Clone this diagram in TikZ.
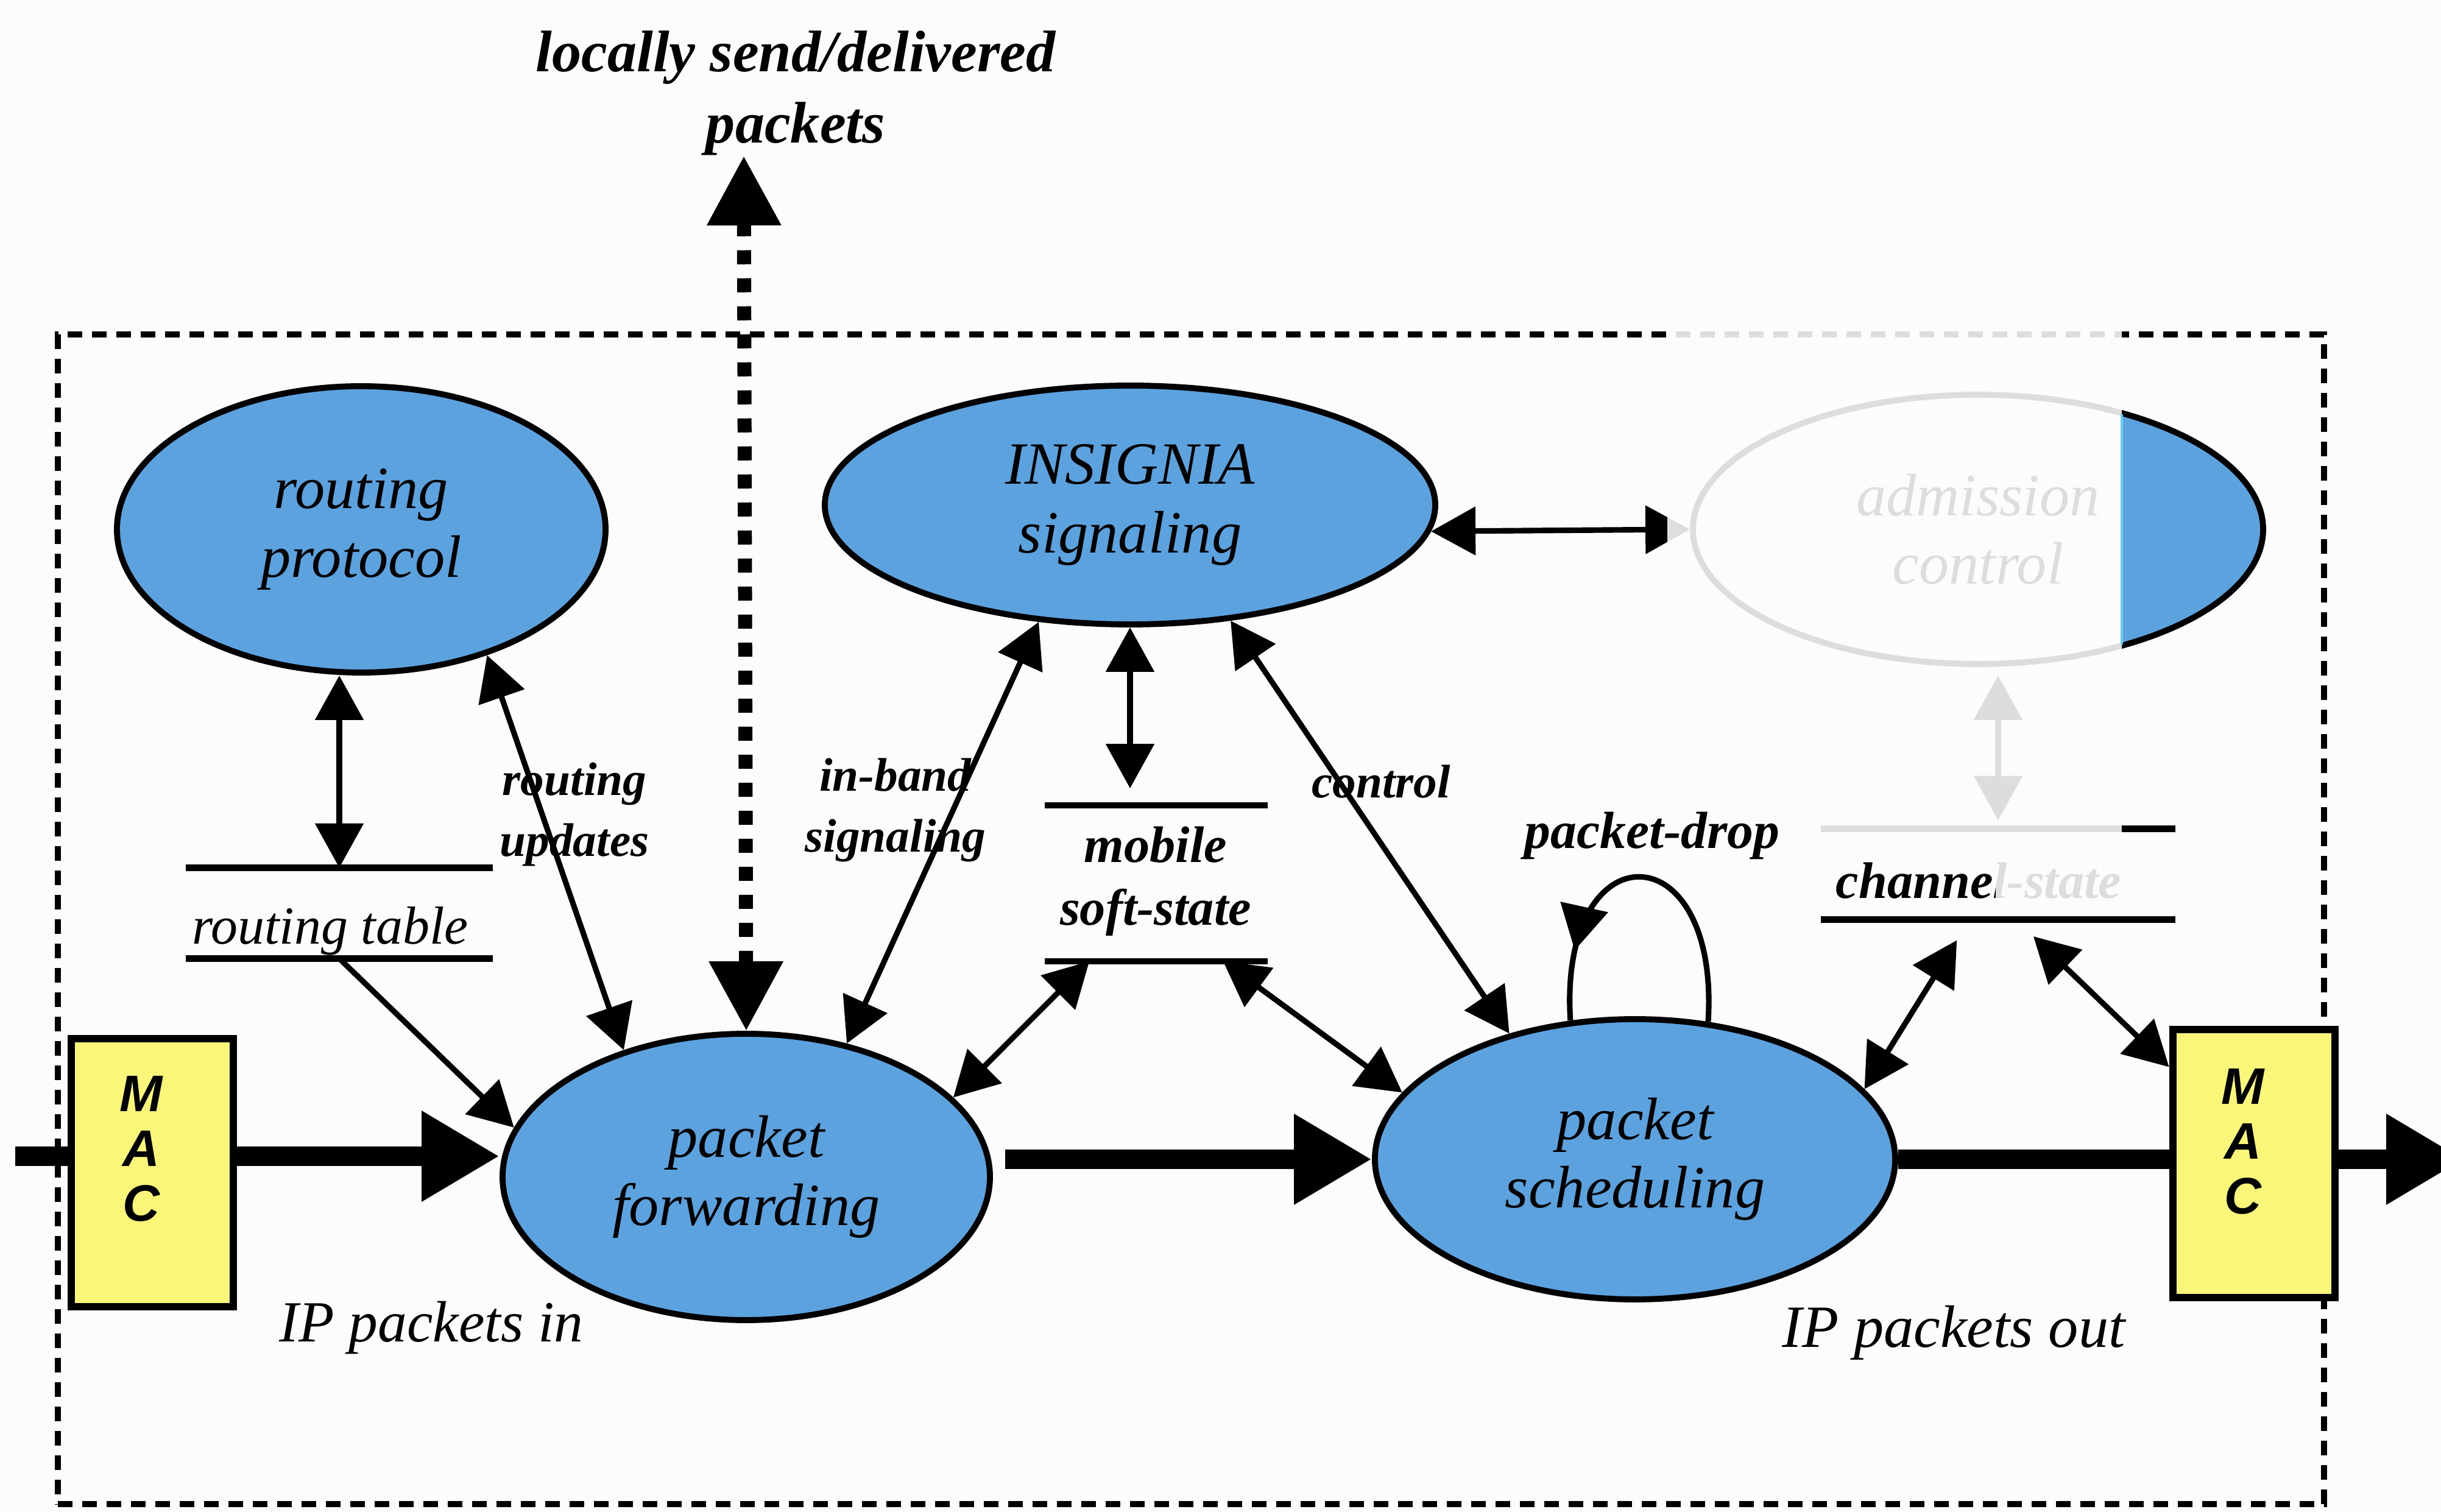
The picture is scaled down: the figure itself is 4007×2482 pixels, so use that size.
\documentclass[tikz,border=0pt]{standalone}
\usepackage{fontspec}
\setmainfont{Liberation Serif}
\newfontfamily\macfont{Liberation Sans}
\usetikzlibrary{arrows.meta,calc,decorations.markings,shapes.geometric}

\definecolor{procblue}{RGB}{92,162,222}
\definecolor{macyellow}{RGB}{250,246,122}
\definecolor{paper}{RGB}{252,252,254}

\tikzset{
  proc/.style={ellipse, draw=black, line width=1.4pt, fill=procblue, inner sep=0pt, align=center,
    font=\fontsize{14}{16}\selectfont\itshape},
  macbox/.style={rectangle, draw=black, line width=1.8pt, fill=macyellow,
    minimum width=13.3mm, minimum height=22mm, inner sep=0pt},
  mactext/.style={align=center, inner sep=0pt,
    font=\macfont\fontsize{12}{12.8}\selectfont\bfseries\itshape},
  storebox/.style={rectangle, inner sep=0pt},
  storeline/.style={line width=1.5pt},
  storetext/.style={inner sep=0pt, align=center,
    font=\fontsize{12}{14.7}\selectfont\bfseries\itshape},
  edgelabel/.style={inner sep=0pt, align=center,
    font=\fontsize{11}{14.2}\selectfont\bfseries\itshape},
  plainlabel/.style={inner sep=0pt, align=center,
    font=\fontsize{13.6}{16}\selectfont\itshape},
  link/.style={line width=1.3pt, >={Triangle[width=3.9mm,length=3.65mm]}, <->},
  oneway/.style={line width=1.3pt, >={Triangle[width=3.9mm,length=3.65mm]}, ->},
  bigline/.style={line width=1.6mm},
  bigarrow/.style={line width=1.6mm, >={Triangle[width=7mm,length=6.4mm]}, ->},
  dotlink/.style={line width=1.15mm, dash pattern=on 1.15mm off 1.15mm,
    >={Triangle[width=5.8mm,length=5.7mm]}, <->},
  outerframe/.style={rectangle, draw=black, line width=0.5mm,
    dash pattern=on 1.2mm off 0.8mm, inner sep=0pt},
  selfloop/.style={line width=1.3pt, postaction={decorate},
    decoration={markings, mark=at position 0.8 with
      {\arrow{Triangle[width=3.9mm,length=3.65mm]}}}},
  fade/.style={fill=paper, opacity=0.88},
}

\begin{document}
\begin{tikzpicture}[x=0.05mm, y=-0.05mm]
\useasboundingbox (0,0) rectangle (4007,2482);
\fill[paper] (0,0) rectangle (4007,2482);

% node boundary
\node[outerframe, minimum width=186mm, minimum height=96mm] (frame) at (1955,1509) {};

% processes
\node[proc, minimum width=40.1mm, minimum height=23.5mm] (rp) at (593,869) {routing\\protocol};
\node[proc, minimum width=50.1mm, minimum height=19.6mm] (is) at (1855,829) {INSIGNIA\\signaling};
\node[proc, minimum width=46.8mm, minimum height=22.1mm, fill=paper,
  path picture={\fill[procblue] ($(path picture bounding box.north east)+(-233,0)$)
    rectangle (path picture bounding box.south east);}] (ac) at (3247,869) {admission\\control};
\node[proc, minimum width=40mm, minimum height=23.5mm] (pf) at (1225,1932) {packet\\forwarding};
\node[proc, minimum width=42.7mm, minimum height=23mm] (ps) at (2684,1903) {packet\\scheduling};

% MAC layer boxes
\node[macbox] (ml) at (250,1925) {};
\node[mactext] (mlt) at (232,1886) {M\\A\\C};
\node[macbox] (mr) at (3700,1910) {};
\node[mactext] (mrt) at (3682,1874) {M\\A\\C};

% data stores
\node[storebox, minimum width=25.05mm, minimum height=7.3mm] (rt) at (557,1499) {};
\draw[storeline] (rt.north west) -- (rt.north east) (rt.south west) -- (rt.south east);
\node[storetext, font=\fontsize{12.5}{15}\selectfont\itshape] (rtl) at (542,1528) {routing table};

\node[storebox, minimum width=18.15mm, minimum height=12.65mm] (ms) at (1898,1450) {};
\draw[storeline] (ms.north west) -- (ms.north east) (ms.south west) -- (ms.south east);
\node[storetext] (msl) at (1897,1447) {mobile\\soft-state};

\node[storebox, minimum width=29mm, minimum height=7.3mm] (cs) at (3280,1435) {};
\draw[storeline] (cs.north west) -- (cs.north east) (cs.south west) -- (cs.south east);
\node[storetext] (csl) at (3248,1446) {channel-state};

% texts
\node[plainlabel, font=\fontsize{13.7}{16.6}\selectfont\bfseries\itshape] (ttl) at (1306,153)
  {locally send/delivered\\packets};
\node[edgelabel] (lru) at (943,1337) {routing\\updates};
\node[edgelabel] (lib) at (1470,1330) {in-band\\signaling};
\node[edgelabel] (lct) at (2267,1283) {control};
\node[edgelabel, font=\fontsize{12.2}{14}\selectfont\bfseries\itshape] (lpd) at (2712,1372) {packet-drop};
\node[plainlabel] (lin) at (708,2180) {IP packets in};
\node[plainlabel, font=\fontsize{14}{16}\selectfont\itshape] (lout) at (3207,2188) {IP packets out};

% packet path
\coordinate (inStart) at (25,1898);
\coordinate (outEnd) at (4045,1903);
\coordinate (topEnd) at (1221,256);
\draw[bigline] (inStart) -- (inStart -| ml.west);
\draw[bigarrow] (inStart -| ml.east) -- (inStart -| pf.west);
\draw[bigarrow, shorten <=1mm] (ps.west -| pf.east) -- (ps.west);
\draw[bigline] (ps.east) -- (ps.east -| mr.west);
\draw[bigarrow] (ps.east -| mr.east) -- (outEnd);
\draw[dotlink] (pf.north) -- (topEnd);

% control and state exchanges
\draw[link] (rt.north |- rp.south) -- (rt.north);
\draw[link] (rp.-45) -- (pf.134);
\draw[oneway] (rt.south) -- (pf.168);
\draw[link] (is.232) -- (pf.53);
\draw[link, shorten >=1.4mm] (is.south) -- (is.south |- ms.north);
\draw[link] (is.-49) -- (ps.135);
\coordinate (msA) at ($(ms.south west)!0.2!(ms.south east)$);
\coordinate (msB) at ($(ms.south west)!0.8!(ms.south east)$);
\draw[link] (msA) -- (pf.21);
\draw[link] (msB) -- (ps.164);
\coordinate (csA) at ($(cs.south west)!0.42!(cs.south east)$);
\coordinate (csB) at ($(cs.south west)!0.55!(cs.south east)$);
\coordinate (mrA) at ($(mr.north west)!0.15!(mr.south west)$);
\draw[link, shorten <=2mm] (csA) -- (ps.17);
\draw[link, shorten <=2mm] (csB) -- (mrA);
\draw[link] (is.-5) -- (ac.west);
\draw[link, shorten <=0.7mm, shorten >=0.7mm] (cs.north |- ac.south) -- (cs.north);
\draw[selfloop] (ps.62) .. controls +(20,-316) and +(-20,-316) .. (ps.115);

% washed-out area
\fill[fade] (2737,535) rectangle (3483,1330);
\fill[fade] (2980,1330) rectangle (3483,1392);
\fill[fade] (3276,1392) rectangle (3483,1476);
\draw[cyan!60!white, line width=0.5pt] (3483,680) -- (3483,1058);
\end{tikzpicture}
\end{document}
